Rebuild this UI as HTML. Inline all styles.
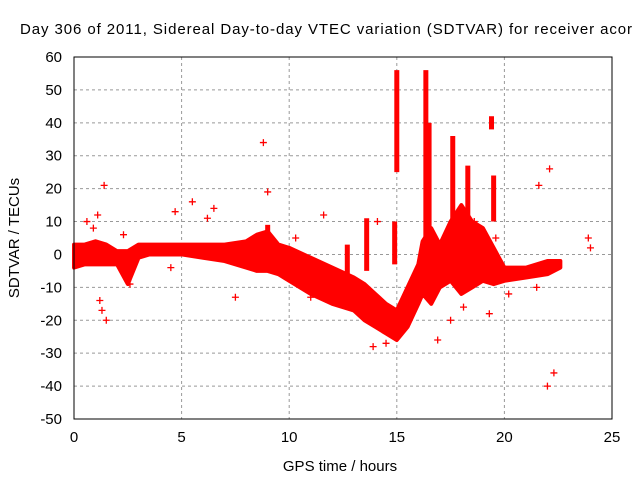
<!DOCTYPE html>
<html><head><meta charset="utf-8"><style>
body{margin:0;background:#fff}
svg text{font-family:"Liberation Sans",sans-serif;font-size:15px;fill:#000}
</style></head><body>
<svg id="c" width="640" height="480">
<text x="20" y="34" textLength="612" lengthAdjust="spacing">Day 306 of 2011, Sidereal Day-to-day VTEC variation (SDTVAR) for receiver acor</text>
<text x="340" y="471" text-anchor="middle">GPS time / hours</text>
<text transform="translate(19,238) rotate(-90)" text-anchor="middle">SDTVAR / TECUs</text>
<g id="grid"></g><g id="band"></g><g id="pts"></g>
<rect x="74" y="57" width="538" height="362" fill="none" stroke="#000"/>
</svg>
<script>
const xTicks=[0,5,10,15,20,25];
const yTicks=[60,50,40,30,20,10,0,-10,-20,-30,-40,-50];
const bandHours=[0,0.5,1,1.5,2,2.5,3,3.5,4,5,6,7,8,8.5,9,9.5,10,11,12,13,13.5,14,14.5,15,15.5,16,16.2,16.6,17,17.5,18,18.5,19,19.5,20,21,22,22.6];
const bandUpper=[3,3,4,3,1,1,3,3,3,3,3,3,4,6,7,3,2,-1,-4,-7,-9,-12,-15,-17,-10,-3,4,8,3,10,15,10,8,2,-4,-4,-2,-2];
const bandLower=[-4,-3,-3,-3,-3,-9,-1,0,0,0,-1,-2,-4,-5,-5,-6,-8,-12,-15,-17,-20,-22,-24,-26,-22,-15,-12,-15,-10,-8,-12,-10,-8,-9,-8,-7,-6,-4];
const spikeHours=[16.35,16.5,17.6,18.3,19.4,19.5,15.0,14.9,13.6,9.0,12.7];
const spikeLow=[-5,0,-5,-3,38,10,25,-3,-5,0,-10];
const spikeHigh=[56,40,36,27,42,24,56,10,11,9,3];
const outHours=[8.8,1.5,1.2,1.3,1.4,0.6,2.3,2.5,4.7,6.5,5.5,9,10.3,11.6,12,13.9,14.1,14.5,16.9,18.6,19.6,20.2,21.6,22,22.3,22.1,23.9,24,13,11,7.5,17.5,18.1,19.3,21.5,6.2,4.5,1.1,0.9,2.6];
const outVals=[34,-20,-14,-17,21,10,6,-8,13,14,16,19,5,12,-5,-28,10,-27,-26,10,5,-12,21,-40,-36,26,5,2,-10,-13,-13,-20,-16,-18,-10,11,-4,12,8,-9];
const W=538,H=362,X0=74,Y0=57;
const xs=h=>X0+h/25*W, ys=v=>Y0+(60-v)/110*H;
const NS='http://www.w3.org/2000/svg';
const mk=(t,a,p)=>{const e=document.createElementNS(NS,t);for(const k in a)e.setAttribute(k,a[k]);p.appendChild(e);return e;};
const grid=document.getElementById('grid'),band=document.getElementById('band'),pts=document.getElementById('pts');
xTicks.forEach(t=>{const x=xs(t);
 if(t>0&&t<25){const l=mk('line',{x1:x,x2:x,y1:Y0,y2:Y0+H,stroke:'#999','stroke-dasharray':'3,3'},grid);
 }
 const tx=mk('text',{x:x,y:442,'text-anchor':'middle'},grid);tx.textContent=t;
 });
yTicks.forEach(t=>{const y=ys(t);
 if(t<60&&t>-50){const l=mk('line',{x1:X0,x2:X0+W,y1:y,y2:y,stroke:'#999','stroke-dasharray':'3,3'},grid);
 }
 const tx=mk('text',{x:62,y:y+5,'text-anchor':'end'},grid);tx.textContent=t;
 });
let d='M'+bandHours.map((h,i)=>xs(h)+','+ys(bandUpper[i])).join('L');
for(let i=bandHours.length-1;i>=0;i--)d+='L'+xs(bandHours[i])+','+ys(bandLower[i]);
const bp=mk('path',{d:d+'Z',fill:'#f00',stroke:'#f00','stroke-width':4,'stroke-linejoin':'round'},band);

spikeHours.forEach((h,i)=>{const s=mk('line',{x1:xs(h),x2:xs(h),y1:ys(spikeLow[i]),y2:ys(spikeHigh[i]),stroke:'#f00','stroke-width':5},band);
 });
outHours.forEach((h,i)=>{const x=xs(h),y=ys(outVals[i]);
 const p=mk('path',{d:`M${x-3.5},${y}H${x+3.5}M${x},${y-3.5}V${y+3.5}`,stroke:'#f00','stroke-width':1.3},pts);
 });
</script>
</body></html>
